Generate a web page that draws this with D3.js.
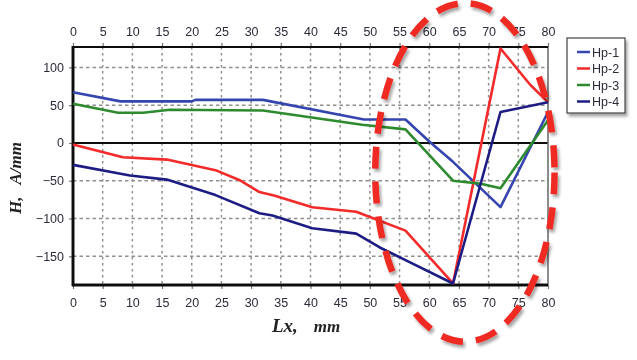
<!DOCTYPE html>
<html>
<head>
<meta charset="utf-8">
<script src="https://cdn.jsdelivr.net/npm/d3@7"></script>
<style>
  html, body { margin: 0; padding: 0; background: #fff; }
  svg { display: block; }
</style>
</head>
<body>
<svg id="chart" width="637" height="360"></svg>
<script>
// Field strength H along the scan line Lx for four probes
const seriesNames = ["Hp-1", "Hp-2", "Hp-3", "Hp-4"];
const seriesColors = ["#3645b0", "#f22a2a", "#2e8a2e", "#1e1e84"];

const hp1 = [[0, 67], [8, 55], [20, 55], [20.6, 57], [32, 57], [49, 31], [56, 31], [60, 2], [64, -25], [72, -85], [80, 41]];
const hp2 = [[0, -2], [8.4, -19], [15.8, -22], [24, -36], [28, -49], [31.4, -65], [34, -70], [40.3, -85], [47.7, -91], [56, -116], [64, -186], [72, 125], [77, 77], [80, 54]];
const hp3 = [[0, 52], [7.6, 40], [11.8, 40], [16.3, 44], [32, 43], [48.7, 24], [56, 18], [64, -50], [68.7, -54], [72, -60], [80, 30]];
const hp4 = [[0, -29], [9.6, -43], [15.8, -48.5], [24, -69], [31.4, -93], [33.6, -96], [40.3, -113], [47.7, -120], [51.6, -138], [56, -155], [64, -186], [72, 41], [80, 54]];
const seriesData = [hp1, hp2, hp3, hp4];

const xTicks = d3.range(0, 81, 5);
const yTicks = [100, 50, 0, -50, -100, -150];

// Highlighted region (centre and radii in data units)
const highlight = { cx: 66, cy: -39, rx: 15.1, ry: 224 };

const svg = d3.select("#chart");
const margin = { left: 73, right: 89, top: 47, bottom: 75 };
const W = 637, H = 360;

const x = d3.scaleLinear().domain([0, 80]).range([margin.left, W - margin.right]);
const y = d3.scaleLinear().domain([-188, 127]).range([H - margin.bottom, margin.top]);

const defs = svg.append("defs");
const shadow = defs.append("filter").attr("id", "shadow").attr("x", "-20%").attr("y", "-20%").attr("width", "140%").attr("height", "140%");
shadow.append("feDropShadow").attr("dx", 2).attr("dy", 3).attr("stdDeviation", 1.6).attr("flood-color", "#000").attr("flood-opacity", 0.35);
const soft = defs.append("filter").attr("id", "soft");
soft.append("feGaussianBlur").attr("stdDeviation", 0.35);

const plot = svg.append("g").attr("filter", "url(#soft)");

// grid
plot.append("g").selectAll("line").data(xTicks.filter(d => d > 0 && d < 80)).join("line")
  .attr("x1", d => x(d)).attr("x2", d => x(d))
  .attr("y1", y.range()[1]).attr("y2", y.range()[0])
  .attr("stroke", "#8f8f8f").attr("stroke-width", 1.5).attr("stroke-dasharray", "2.5,3.5");
plot.append("g").selectAll("line").data(yTicks.filter(d => d !== 0)).join("line")
  .attr("x1", x.range()[0]).attr("x2", x.range()[1])
  .attr("y1", d => y(d)).attr("y2", d => y(d))
  .attr("stroke", "#8f8f8f").attr("stroke-width", 1.5).attr("stroke-dasharray", "3.5,3");

// zero line
plot.append("line")
  .attr("x1", x.range()[0]).attr("x2", x.range()[1])
  .attr("y1", y(0)).attr("y2", y(0))
  .attr("stroke", "#111").attr("stroke-width", 2);

// axes
const tickFont = "'Liberation Sans', Arial, sans-serif";
function styleAxis(g) {
  g.select(".domain").remove();
  g.selectAll(".tick line").attr("stroke", "#777").attr("stroke-width", 1.2);
  g.selectAll(".tick text").attr("fill", "#2b2b3b").style("font-family", tickFont).style("font-size", "12.5px");
}
plot.append("g").attr("transform", `translate(0,${y.range()[1]})`)
  .call(d3.axisTop(x).tickValues(xTicks).tickSize(4).tickPadding(7)).call(styleAxis);
plot.append("g").attr("transform", `translate(0,${y.range()[0]})`)
  .call(d3.axisBottom(x).tickValues(xTicks).tickSize(4).tickPadding(9)).call(styleAxis);
plot.append("g").attr("transform", `translate(${x.range()[0]},0)`)
  .call(d3.axisLeft(y).tickValues(yTicks).tickSize(4).tickPadding(5)).call(styleAxis);

// frame
const [x0, x1] = x.range(), [y0, y1] = [y.range()[1], y.range()[0]];
plot.append("line").attr("x1", x1).attr("x2", x1).attr("y1", y0).attr("y2", y1).attr("stroke", "#666").attr("stroke-width", 1.5);
plot.append("line").attr("x1", x0).attr("x2", x1).attr("y1", y0).attr("y2", y0).attr("stroke", "#111").attr("stroke-width", 2);
plot.append("line").attr("x1", x0 - 1).attr("x2", x1).attr("y1", y1).attr("y2", y1).attr("stroke", "#111").attr("stroke-width", 3);
plot.append("line").attr("x1", x0).attr("x2", x0).attr("y1", y0 - 1).attr("y2", y1 + 1).attr("stroke", "#111").attr("stroke-width", 3);

// series
const line = d3.line().x(d => x(d[0])).y(d => y(d[1]));
plot.append("g").selectAll("path").data(seriesData).join("path")
  .attr("d", line)
  .attr("fill", "none")
  .attr("stroke", (d, i) => seriesColors[i])
  .attr("stroke-width", 2.6)
  .attr("stroke-linejoin", "round");

// axis titles
const titleFont = "'Liberation Serif', 'DejaVu Serif', serif";
const xt = plot.append("text")
  .attr("x", 272).attr("y", 332)
  .style("font-family", titleFont).style("font-weight", "bold").style("font-style", "italic")
  .attr("fill", "#222");
xt.append("tspan").style("font-size", "19px").text("Lx,");
xt.append("tspan").attr("dx", 16).style("font-size", "17px").text("mm");

const yt = plot.append("text")
  .attr("transform", "translate(21,214) rotate(-90)")
  .style("font-family", titleFont).style("font-weight", "bold").style("font-style", "italic")
  .attr("fill", "#222");
yt.append("tspan").style("font-size", "17px").text("H,");
yt.append("tspan").attr("dx", 12).style("font-size", "17px").text("A/mm");

// legend
const lg = svg.append("g").attr("transform", "translate(567,38)").attr("filter", "url(#soft)");
lg.append("rect").attr("width", 58).attr("height", 75)
  .attr("fill", "#fff").attr("stroke", "#444").attr("stroke-width", 1.2)
  .attr("filter", "url(#shadow)");
const items = lg.selectAll("g.item").data(seriesNames).join("g")
  .attr("class", "item")
  .attr("transform", (d, i) => `translate(0,${14 + i * 16.5})`);
items.append("line").attr("x1", 10).attr("x2", 23).attr("y1", 0).attr("y2", 0)
  .attr("stroke", (d, i) => seriesColors[i]).attr("stroke-width", 2.5);
items.append("text").attr("x", 25).attr("y", 4.5)
  .style("font-family", tickFont).style("font-size", "12.5px").attr("fill", "#2b2b3b")
  .text(d => d);

// dashed highlight ellipse
svg.append("ellipse")
  .attr("cx", x(highlight.cx)).attr("cy", y(highlight.cy))
  .attr("rx", x(highlight.cx + highlight.rx) - x(highlight.cx))
  .attr("ry", y(highlight.cy) - y(highlight.cy + highlight.ry))
  .attr("fill", "none").attr("stroke", "#ee2b24").attr("stroke-width", 6.5)
  .attr("stroke-dasharray", "22,13")
  .attr("filter", "url(#shadow)");
</script>
</body>
</html>
